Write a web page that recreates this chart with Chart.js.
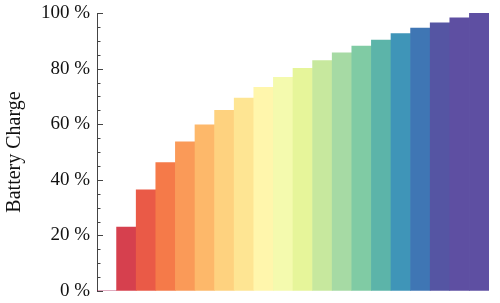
<!DOCTYPE html>
<html>
<head>
<meta charset="utf-8">
<script src="https://cdn.jsdelivr.net/npm/chart.js@4"></script>
<style>
  html, body { margin: 0; padding: 0; background: #fff; }
  #wrap { width: 500px; height: 303px; }
</style>
</head>
<body>
<div id="wrap"><canvas id="chart" width="500" height="303"></canvas></div>
<script>
// bar categories (hidden on the x axis)
const steps = ['0', '1', '2', '3', '4', '5', '6', '7', '8', '9',
               '10', '11', '12', '13', '14', '15', '16', '17', '18', '19'];

// battery charge per step, percent
const charge = [0, 23.0, 36.4, 46.2, 53.7, 59.8, 65.0, 69.4, 73.3, 76.9,
                80.1, 82.9, 85.7, 88.1, 90.3, 92.6, 94.6, 96.5, 98.3, 100];

// Spectral-like colours, one per bar
const barColors = ['#9e0142', '#d6404e', '#ea5a47', '#f57a49', '#fa9a58', '#fdb86a',
                   '#fed27f', '#fee593', '#fff6ac', '#f4faae', '#e6f59a', '#c7e89e',
                   '#a6daa4', '#80cba4', '#5cb4a9', '#3f95b8', '#3f76b4', '#5555a3',
                   '#5e4fa2', '#5e4fa2'];

const yTicks = [0, 20, 40, 60, 80, 100];
const yMinorStep = 5;

const serif = "'Liberation Serif', 'DejaVu Serif', serif";

// ticks point inward from the left spine, majors longer than minors
const inwardTicks = {
    id: 'inwardTicks',
    afterDraw(chart) {
        const y = chart.scales.y;
        const ctx = chart.ctx;
        const x0 = chart.chartArea.left;
        ctx.save();
        ctx.strokeStyle = '#444';
        ctx.lineWidth = 1;
        for (let v = 0; v <= 100; v += yMinorStep) {
            const py = Math.round(y.getPixelForValue(v)) + 0.5;
            const len = yTicks.includes(v) ? 6 : 3.5;
            ctx.beginPath();
            ctx.moveTo(x0, py);
            ctx.lineTo(x0 + len, py);
            ctx.stroke();
        }
        ctx.restore();
    }
};

new Chart(document.getElementById('chart'), {
    type: 'bar',
    data: {
        labels: steps,
        datasets: [{
            data: charge,
            backgroundColor: barColors,
            borderWidth: 0,
            barPercentage: 1,
            categoryPercentage: 1
        }]
    },
    options: {
        responsive: false,
        animation: false,
        layout: { padding: { top: 13, right: 11, bottom: 12, left: 0 } },
        plugins: {
            legend: { display: false },
            tooltip: { enabled: false }
        },
        scales: {
            x: { display: false },
            y: {
                min: 0,
                max: 100,
                afterFit(scale) {
                    scale.width = 97;
                    scale.paddingTop = 0;
                    scale.paddingBottom = 0;
                },
                afterBuildTicks(scale) {
                    scale.ticks = yTicks.map(v => ({ value: v }));
                },
                grid: { display: true, drawOnChartArea: false, drawTicks: false },
                border: { display: true, color: '#444', width: 1 },
                ticks: {
                    padding: 7,
                    color: '#111',
                    font: { family: serif, size: 19 },
                    callback: v => v + ' %'
                },
                title: {
                    display: true,
                    text: 'Battery Charge',
                    color: '#111',
                    font: { family: serif, size: 20 },
                    padding: { top: 3, bottom: 4 }
                }
            }
        }
    },
    plugins: [inwardTicks]
});
</script>
</body>
</html>
